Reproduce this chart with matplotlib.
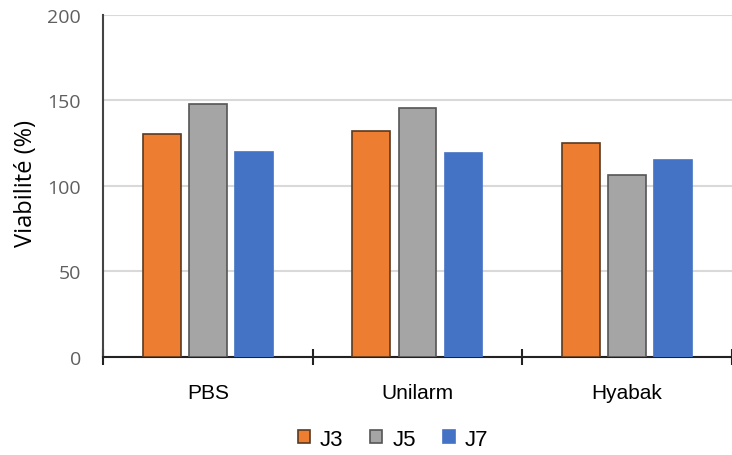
import numpy as np
import matplotlib
matplotlib.use("Agg")
import matplotlib.pyplot as plt

groups = ["PBS", "Unilarm", "Hyabak"]
series = ["J3", "J5", "J7"]
j3 = [130.5, 132, 125]
j5 = [148, 145.5, 106.5]
j7 = [120, 119, 115]
yticks = [0, 50, 100, 150, 200]

fills = ["#ED7D31", "#A5A5A5", "#4472C4"]
edges = ["#5a3a20", "#555555", "#4472C4"]

fig = plt.figure(figsize=(7.32, 4.56), dpi=100)
ax = fig.add_axes([0.1407, 0.215, 0.8593, 0.75])

x = np.arange(len(groups))
w = 0.18
off = 0.22
for i, vals in enumerate([j3, j5, j7]):
    ax.bar(x + (i - 1) * off, vals, w, color=fills[i], edgecolor=edges[i],
           linewidth=1.2, label=series[i], zorder=3)

ax.set_xlim(-0.5, 2.5)
ax.set_ylim(0, 200)
ax.set_yticks(yticks)
ax.yaxis.grid(True, color="#d9d9d9", linewidth=1.5, zorder=0)
ax.tick_params(axis="y", length=0, pad=16, labelsize=14, labelcolor="#5f5f5f")
for lab in ax.get_yticklabels():
    lab.set_family("Open Sans")

# group separators on the x axis, names on minor ticks
ax.set_xticks([-0.5, 0.5, 1.5, 2.5])
ax.set_xticklabels([])
ax.tick_params(axis="x", which="major", direction="inout", length=12, width=1.5, color="#222222")
ax.set_xticks(x, minor=True)
ax.set_xticklabels(groups, minor=True, family="Liberation Sans", fontsize=15)
ax.tick_params(axis="x", which="minor", length=0, pad=19)

for s in ["top", "right"]:
    ax.spines[s].set_visible(False)
ax.spines["left"].set_color("#444444")
ax.spines["left"].set_linewidth(1.5)
ax.spines["bottom"].set_color("#222222")
ax.spines["bottom"].set_linewidth(1.5)

ax.set_ylabel("Viabilité (%)", family="Open Sans", fontsize=17)
ax.yaxis.set_label_coords(-0.103, 0.51)

fig.legend(loc="center", bbox_to_anchor=(0.537, 0.035), ncol=3, frameon=False,
           handlelength=0.55, handleheight=0.55, handletextpad=0.45, columnspacing=1.2,
           prop={"family": "Liberation Sans", "size": 16})

fig.savefig("out.png", dpi=100)
